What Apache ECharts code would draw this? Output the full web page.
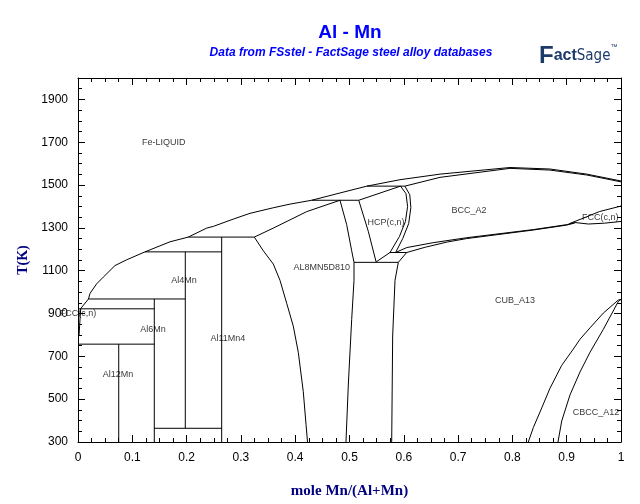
<!DOCTYPE html>
<html><head><meta charset="utf-8">
<script src="https://cdn.jsdelivr.net/npm/echarts@6/dist/echarts.min.js"></script>
<style>html,body{margin:0;padding:0;background:#fff}#c{width:640px;height:504px}</style>
</head><body><div id="c"></div>
<script>
// ---- tick labels ----
const xTickLabels = [0, 0.1, 0.2, 0.3, 0.4, 0.5, 0.6, 0.7, 0.8, 0.9, 1];
const yTickLabels = [300, 500, 700, 900, 1100, 1300, 1500, 1700, 1900];

// ---- phase boundaries: [mole Mn/(Al+Mn), T(K)] ----
const liquidusAl = [[0.0046,922],[0.0193,968],[0.0221,994],[0.0344,1039],[0.0466,1070],[0.0681,1124],[0.0897,1151],[0.1234,1188],[0.1694,1235],[0.2031,1257],[0.237,1299],[0.2492,1307],[0.286,1341],[0.3168,1368],[0.3597,1394],[0.3904,1411],[0.4304,1429]];
const fccAl = [[0.005,922],[0.004,885],[0.003,845],[0.002,800]];
const inv757 = [[0,757],[0.1405,757]];
const inv922 = [[0,922],[0.1405,922]];
const inv968 = [[0.0193,968],[0.1976,968]];
const inv1188 = [[0.1234,1188],[0.2646,1188]];
const inv1257 = [[0.2031,1257],[0.3247,1257]];
const inv364 = [[0.1405,364],[0.2646,364]];
const inv1429 = [[0.4304,1429],[0.517,1429]];
const inv1495 = [[0.532,1495],[0.602,1495]];
const inv1139 = [[0.5083,1139],[0.5899,1139]];
const inv1185 = [[0.5746,1185],[0.6053,1185]];
const al12mn = [[0.075,300],[0.075,757]];
const al6mn = [[0.1405,300],[0.1405,968]];
const al4mn = [[0.1976,364],[0.1976,1188]];
const al11mn4 = [[0.2646,300],[0.2646,1257]];
const al8mn5Solidus = [[0.3247,1257],[0.3597,1299],[0.4212,1376],[0.4825,1429]];
const al8mn5Left = [[0.3247,1257],[0.3413,1193],[0.3597,1131],[0.372,1055],[0.3843,948],[0.3965,841],[0.4057,719],[0.4149,535],[0.4199,383],[0.4227,300]];
const al8mn5Right = [[0.4825,1429],[0.4948,1315],[0.504,1193],[0.5083,1139],[0.5083,1055],[0.504,872],[0.4978,566],[0.4935,300]];
const cubLeft = [[0.5777,300],[0.5795,795],[0.5838,1055],[0.5899,1139],[0.6053,1185]];
const liquidusMid = [[0.4304,1429],[0.4825,1463],[0.532,1495]];
const hcpLeft = [[0.517,1429],[0.5346,1284],[0.549,1141]];
const hcpBottom = [[0.549,1141],[0.5746,1185]];
const hcpSolidus = [[0.517,1429],[0.594,1495]];
const hcpRight = [[0.5746,1185],[0.592,1260],[0.603,1330],[0.607,1400],[0.604,1460],[0.594,1495]];
const bccLeft = [[0.585,1185],[0.598,1250],[0.609,1320],[0.613,1395],[0.611,1455],[0.602,1495]];
const liquidusMn = [[0.532,1495],[0.593,1525],[0.6667,1551],[0.7956,1582],[0.869,1575],[0.937,1551],[1,1519]];
const solidusMn = [[0.602,1495],[0.6667,1536],[0.7956,1578],[0.869,1570],[0.937,1547],[1,1515]];
const bccLower = [[0.585,1185],[0.6053,1208],[0.6543,1231],[0.7158,1254],[0.8385,1292],[0.90,1315],[0.915,1325]];
const cubUpper = [[0.6053,1185],[0.64,1210],[0.68,1234],[0.7158,1250],[0.8385,1290],[0.90,1313],[0.915,1323]];
const fccLensTop = [[0.905,1320],[0.935,1350],[0.96,1376],[1,1402]];
const fccLensBottom = [[0.915,1325],[0.94,1318],[0.97,1322],[1,1330]];
const cbccUpper = [[0.8293,300],[0.8385,367],[0.854,459],[0.8692,551],[0.8908,658],[0.9122,734],[0.9245,780],[0.9429,833],[0.9674,902],[0.995,963],[1,966]];
const cbccLower = [[0.884,300],[0.8908,398],[0.9061,520],[0.9245,627],[0.9429,719],[0.9674,826],[0.995,956],[1,966]];

const boundaries = [liquidusAl, fccAl, inv757, inv922, inv968, inv1188, inv1257, inv364, inv1429, inv1495, inv1139, inv1185,
  al12mn, al6mn, al4mn, al11mn4, al8mn5Solidus, al8mn5Left, al8mn5Right, cubLeft, liquidusMid, hcpLeft, hcpBottom,
  hcpSolidus, hcpRight, bccLeft, liquidusMn, solidusMn, bccLower, cubUpper, fccLensTop, fccLensBottom, cbccUpper, cbccLower];

// ---- phase labels: [text, X, T] ----
const phaseLabels = [
  ['Fe-LIQUID', 0.158, 1700],
  ['FCC(c,n)', 0.0, 900],
  ['Al12Mn', 0.0737, 616],
  ['Al6Mn', 0.138, 827],
  ['Al4Mn', 0.195, 1052],
  ['Al11Mn4', 0.276, 781],
  ['AL8MN5D810', 0.449, 1116],
  ['HCP(c,n)', 0.567, 1327],
  ['BCC_A2', 0.72, 1382],
  ['CUB_A13', 0.805, 960],
  ['CBCC_A12', 0.954, 437]
];
const clippedLabel = ['FCC(c,n)', 0.928, 1348];

const chart = echarts.init(document.getElementById('c'), null, {renderer: 'canvas'});

const lineSeries = boundaries.map(d => ({
  type: 'line', data: d, showSymbol: false, symbol: 'none', silent: true, animation: false,
  lineStyle: {color: '#000', width: 1}, xAxisIndex: 0, yAxisIndex: 0, z: 3
}));

const labelFont = {fontFamily: 'Arial', fontSize: 9, color: '#000'};
lineSeries.push({
  type: 'scatter', symbolSize: 0, silent: true, animation: false, xAxisIndex: 0, yAxisIndex: 0, z: 4,
  data: phaseLabels.map(l => ({name: l[0], value: [l[1], l[2]]})),
  label: Object.assign({show: true, position: 'inside', formatter: p => p.name}, labelFont)
});
lineSeries.push({
  type: 'scatter', symbolSize: 0, silent: true, animation: false, xAxisIndex: 0, yAxisIndex: 0, z: 4,
  data: [{name: clippedLabel[0], value: [clippedLabel[1], clippedLabel[2]]}],
  label: Object.assign({show: true, position: 'inside', align: 'left', formatter: p => p.name,
    width: 39, overflow: 'truncate', ellipsis: ''}, labelFont)
});

const axLine = {show: true, onZero: false, lineStyle: {color: '#000', width: 1}};
const noLine = {show: false, onZero: false};
const tickStyle = {color: '#000', width: 1};
const nameStyle = {fontFamily: '"Liberation Serif", "Times New Roman", serif', fontWeight: 'bold', color: '#000080'};

const option = {
  animation: false,
  backgroundColor: '#fff',
  grid: {left: 78, right: 19, top: 78, bottom: 56, containLabel: false},
  xAxis: [
    {type: 'value', min: 0, max: 1, interval: 0.025, position: 'bottom', axisLine: axLine,
     axisTick: {inside: true, length: 4, lineStyle: tickStyle}, splitLine: {show: false},
     axisLabel: {customValues: xTickLabels, formatter: v => String(v), color: '#000', fontFamily: 'Arial', fontSize: 12, margin: 10},
     name: 'mole Mn/(Al+Mn)', nameLocation: 'middle', nameGap: 42, nameMoveOverlap: false,
     nameTextStyle: Object.assign({fontSize: 15}, nameStyle)},
    {type: 'value', min: 0, max: 1, position: 'bottom', axisLine: noLine,
     axisTick: {inside: true, length: 7, customValues: xTickLabels, lineStyle: tickStyle}, axisLabel: {show: false}, splitLine: {show: false}},
    {type: 'value', min: 0, max: 1, interval: 0.025, position: 'top', axisLine: axLine,
     axisTick: {inside: true, length: 4, lineStyle: tickStyle}, axisLabel: {show: false}, splitLine: {show: false}},
    {type: 'value', min: 0, max: 1, position: 'top', axisLine: noLine,
     axisTick: {inside: true, length: 7, customValues: xTickLabels, lineStyle: tickStyle}, axisLabel: {show: false}, splitLine: {show: false}}
  ],
  yAxis: [
    {type: 'value', min: 300, max: 2000, interval: 50, position: 'left', axisLine: axLine,
     axisTick: {inside: true, length: 4, lineStyle: tickStyle}, splitLine: {show: false},
     axisLabel: {customValues: yTickLabels, formatter: v => String(v), color: '#000', fontFamily: 'Arial', fontSize: 12, margin: 10},
     name: 'T(K)', nameLocation: 'middle', nameGap: 48, nameMoveOverlap: false,
     nameTextStyle: Object.assign({fontSize: 14}, nameStyle)},
    {type: 'value', min: 300, max: 2000, position: 'left', axisLine: noLine,
     axisTick: {inside: true, length: 7, customValues: yTickLabels, lineStyle: tickStyle}, axisLabel: {show: false}, splitLine: {show: false}},
    {type: 'value', min: 300, max: 2000, interval: 50, position: 'right', axisLine: axLine,
     axisTick: {inside: true, length: 4, lineStyle: tickStyle}, axisLabel: {show: false}, splitLine: {show: false}},
    {type: 'value', min: 300, max: 2000, position: 'right', axisLine: noLine,
     axisTick: {inside: true, length: 7, customValues: yTickLabels, lineStyle: tickStyle}, axisLabel: {show: false}, splitLine: {show: false}}
  ],
  graphic: [
    {type: 'text', x: 350, y: 33, style: {text: 'Al - Mn', font: 'bold 19px Arial', fill: '#0000ff', align: 'center', verticalAlign: 'middle'}},
    {type: 'text', x: 351, y: 53, style: {text: 'Data from FSstel - FactSage steel alloy databases', font: 'italic bold 12px Arial', fill: '#0000ff', align: 'center', verticalAlign: 'middle'}},
    {type: 'text', x: 539, y: 56, style: {
      text: '{f|F}{a|act}{s|Sage}{t|™}', fill: '#1d3a6c', verticalAlign: 'middle', align: 'left',
      rich: {
        f: {fontSize: 24, fontWeight: 'bold', fontFamily: 'Arial', fill: '#1d3a6c'},
        a: {fontSize: 16, fontWeight: 'bold', fontFamily: 'Arial', fill: '#1d3a6c'},
        s: {fontSize: 15, fontFamily: '"DejaVu Sans Condensed", Arial', fill: '#1d3a6c'},
        t: {fontSize: 7, fontFamily: 'Arial', fill: '#1d3a6c', verticalAlign: 'top'}
      }}}
  ],
  series: lineSeries
};
chart.setOption(option);
</script>
</body></html>
